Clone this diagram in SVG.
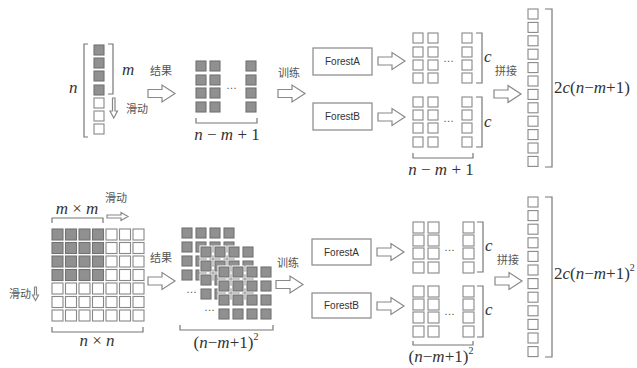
<svg xmlns="http://www.w3.org/2000/svg" xmlns:xlink="http://www.w3.org/1999/xlink" width="637" height="368" viewBox="0 0 637 368">
<style>
.br{fill:none;stroke:#777;stroke-width:1.2}
.ar{fill:#fff;stroke:#888;stroke-width:1.2}
.math{font-family:"Liberation Serif","Times New Roman",serif;fill:#333;font-size:17px}
.it{font-style:italic}
.cn{font-family:"Noto Sans CJK SC",sans-serif;fill:#555;font-size:11px}
.box{fill:#fff;stroke:#888;stroke-width:1.2}
.fl{font-family:"Liberation Sans",Arial,sans-serif;font-size:10px;fill:#333;text-anchor:middle}
.dots{font-family:"Liberation Sans",Arial,sans-serif;font-size:11px;fill:#555}
</style>
<defs>
<rect id="ws" width="10" height="10" fill="#fff" stroke="#888" stroke-width="1.1"/>
<rect id="wl" width="11" height="11" fill="#fff" stroke="#888" stroke-width="1.1"/>
<rect id="gs" width="10" height="10" fill="#909090" stroke="#727272" stroke-width="1.1"/>
<rect id="gl" width="11" height="11" fill="#909090" stroke="#727272" stroke-width="1.1"/>
<g id="gh"><rect x="-1.5" y="-1.5" width="13" height="13" fill="#fff"/><rect width="10" height="10" fill="#909090" stroke="#727272" stroke-width="1.1"/></g>
<path id="bigarrow" d="M0,-4 H14 V-8.5 L27,0 L14,8.5 V4 H0 Z" class="ar"/>
</defs>

<!-- ===== TOP ROW ===== -->
<g id="top-input">
<path class="br" d="M88,44 H84 V137 H88"/>
<path class="br" d="M108,44 H113 V94 H108"/>
<use href="#gs" x="94" y="45"/><use href="#gs" x="94" y="58"/><use href="#gs" x="94" y="71"/><use href="#gs" x="94" y="85"/>
<use href="#ws" x="94" y="98"/><use href="#ws" x="94" y="111"/><use href="#ws" x="94" y="124"/>
<text class="math it" x="69" y="93">n</text>
<text class="math it" x="122" y="75">m</text>
<path class="ar" d="M112.5,98 H115 V111 H117.5 L113.75,118 L110,111 H112.5 Z"/>
<text class="cn" x="126" y="113">滑动</text>
</g>

<g id="top-result">
<use href="#gs" x="196" y="61"/><use href="#gs" x="210" y="61"/><use href="#gs" x="246" y="61"/>
<use href="#gs" x="196" y="75"/><use href="#gs" x="210" y="75"/><use href="#gs" x="246" y="75"/>
<use href="#gs" x="196" y="88"/><use href="#gs" x="210" y="88"/><use href="#gs" x="246" y="88"/>
<use href="#gs" x="196" y="102"/><use href="#gs" x="210" y="102"/><use href="#gs" x="246" y="102"/>
<text class="dots" x="226" y="89">…</text>
<path class="br" d="M196,118 V123 H257 V118"/>
<text class="math" x="227" y="140" text-anchor="middle"><tspan class="it">n</tspan> − <tspan class="it">m</tspan> + 1</text>
</g>

<g id="top-forestA"><rect class="box" x="313" y="48" width="59" height="27"/><text class="fl" x="342.5" y="65">ForestA</text></g>
<g id="top-forestB"><rect class="box" x="313" y="103" width="59" height="27"/><text class="fl" x="342.5" y="120">ForestB</text></g>

<g id="top-outA">
<use href="#ws" x="413" y="33"/><use href="#ws" x="428" y="33"/><use href="#ws" x="462" y="33"/>
<use href="#ws" x="413" y="47"/><use href="#ws" x="428" y="47"/><use href="#ws" x="462" y="47"/>
<use href="#ws" x="413" y="60"/><use href="#ws" x="428" y="60"/><use href="#ws" x="462" y="60"/>
<use href="#ws" x="413" y="73"/><use href="#ws" x="428" y="73"/><use href="#ws" x="462" y="73"/>
<text class="dots" x="443" y="62">…</text>
<path class="br" d="M476,33 H482 V83 H476"/>
<text class="math it" x="484" y="62">c</text>
</g>
<g id="top-outB">
<use href="#ws" x="413" y="97"/><use href="#ws" x="428" y="97"/><use href="#ws" x="462" y="97"/>
<use href="#ws" x="413" y="110"/><use href="#ws" x="428" y="110"/><use href="#ws" x="462" y="110"/>
<use href="#ws" x="413" y="123"/><use href="#ws" x="428" y="123"/><use href="#ws" x="462" y="123"/>
<use href="#ws" x="413" y="137"/><use href="#ws" x="428" y="137"/><use href="#ws" x="462" y="137"/>
<text class="dots" x="443" y="122">…</text>
<path class="br" d="M476,97 H482 V147 H476"/>
<text class="math it" x="484" y="127">c</text>
<path class="br" d="M413,153 V158 H473 V153"/>
<text class="math" x="441" y="175" text-anchor="middle"><tspan class="it">n</tspan> − <tspan class="it">m</tspan> + 1</text>
</g>

<g id="top-concat">
<use href="#ws" x="528" y="9"/><use href="#ws" x="528" y="22.4"/><use href="#ws" x="528" y="35.8"/><use href="#ws" x="528" y="49.2"/>
<use href="#ws" x="528" y="62.6"/><use href="#ws" x="528" y="76"/><use href="#ws" x="528" y="89.4"/><use href="#ws" x="528" y="102.8"/>
<use href="#ws" x="528" y="116.2"/><use href="#ws" x="528" y="129.6"/><use href="#ws" x="528" y="143"/><use href="#ws" x="528" y="156.4"/>
<path class="br" d="M545,9 H552 V167 H545"/>
<text class="math" x="554" y="93">2<tspan class="it">c</tspan>(<tspan class="it">n</tspan>−<tspan class="it">m</tspan>+1)</text>
</g>

<!-- ===== BOTTOM ROW ===== -->
<g id="bottom-input">
<text class="cn" x="105" y="202">滑动</text>
<path class="ar" d="M107,215 H121 V212.5 L128,216.5 L121,220.5 V218 H107 Z"/>
<text class="math" x="77" y="214" text-anchor="middle"><tspan class="it">m</tspan> × <tspan class="it">m</tspan></text>
<path class="br" d="M52,223 V218 H103 V223"/>
<use href="#gl" x="52" y="229"/><use href="#gl" x="65.5" y="229"/><use href="#gl" x="79" y="229"/><use href="#gl" x="92.5" y="229"/><use href="#wl" x="106" y="229"/><use href="#wl" x="119.5" y="229"/><use href="#wl" x="133" y="229"/>
<use href="#gl" x="52" y="242.5"/><use href="#gl" x="65.5" y="242.5"/><use href="#gl" x="79" y="242.5"/><use href="#gl" x="92.5" y="242.5"/><use href="#wl" x="106" y="242.5"/><use href="#wl" x="119.5" y="242.5"/><use href="#wl" x="133" y="242.5"/>
<use href="#gl" x="52" y="256"/><use href="#gl" x="65.5" y="256"/><use href="#gl" x="79" y="256"/><use href="#gl" x="92.5" y="256"/><use href="#wl" x="106" y="256"/><use href="#wl" x="119.5" y="256"/><use href="#wl" x="133" y="256"/>
<use href="#gl" x="52" y="269.5"/><use href="#gl" x="65.5" y="269.5"/><use href="#gl" x="79" y="269.5"/><use href="#gl" x="92.5" y="269.5"/><use href="#wl" x="106" y="269.5"/><use href="#wl" x="119.5" y="269.5"/><use href="#wl" x="133" y="269.5"/>
<use href="#wl" x="52" y="283"/><use href="#wl" x="65.5" y="283"/><use href="#wl" x="79" y="283"/><use href="#wl" x="92.5" y="283"/><use href="#wl" x="106" y="283"/><use href="#wl" x="119.5" y="283"/><use href="#wl" x="133" y="283"/>
<use href="#wl" x="52" y="296.5"/><use href="#wl" x="65.5" y="296.5"/><use href="#wl" x="79" y="296.5"/><use href="#wl" x="92.5" y="296.5"/><use href="#wl" x="106" y="296.5"/><use href="#wl" x="119.5" y="296.5"/><use href="#wl" x="133" y="296.5"/>
<use href="#wl" x="52" y="310"/><use href="#wl" x="65.5" y="310"/><use href="#wl" x="79" y="310"/><use href="#wl" x="92.5" y="310"/><use href="#wl" x="106" y="310"/><use href="#wl" x="119.5" y="310"/><use href="#wl" x="133" y="310"/>
<text class="cn" x="9" y="298">滑动</text>
<path class="ar" d="M34.5,287 H36.5 V295 H38.5 L35.5,300.5 L32.5,295 H34.5 Z"/>
<path class="br" d="M52,327 V332 H143 V327"/>
<text class="math" x="97" y="346" text-anchor="middle"><tspan class="it">n</tspan> × <tspan class="it">n</tspan></text>
</g>

<g id="bottom-result">
<use href="#gh" x="182" y="228"/><use href="#gh" x="196" y="228"/><use href="#gh" x="210" y="228"/><use href="#gh" x="224" y="228"/>
<use href="#gh" x="182" y="242"/><use href="#gh" x="196" y="242"/><use href="#gh" x="210" y="242"/><use href="#gh" x="224" y="242"/>
<use href="#gh" x="182" y="256"/><use href="#gh" x="196" y="256"/><use href="#gh" x="210" y="256"/><use href="#gh" x="224" y="256"/>
<use href="#gh" x="182" y="270"/><use href="#gh" x="196" y="270"/><use href="#gh" x="210" y="270"/><use href="#gh" x="224" y="270"/>
<use href="#gh" x="201" y="247"/><use href="#gh" x="215" y="247"/><use href="#gh" x="229" y="247"/><use href="#gh" x="243" y="247"/>
<use href="#gh" x="201" y="261"/><use href="#gh" x="215" y="261"/><use href="#gh" x="229" y="261"/><use href="#gh" x="243" y="261"/>
<use href="#gh" x="201" y="275"/><use href="#gh" x="215" y="275"/><use href="#gh" x="229" y="275"/><use href="#gh" x="243" y="275"/>
<use href="#gh" x="201" y="289"/><use href="#gh" x="215" y="289"/><use href="#gh" x="229" y="289"/><use href="#gh" x="243" y="289"/>
<use href="#gh" x="219" y="267"/><use href="#gh" x="233" y="267"/><use href="#gh" x="247" y="267"/><use href="#gh" x="261" y="267"/>
<use href="#gh" x="219" y="281"/><use href="#gh" x="233" y="281"/><use href="#gh" x="247" y="281"/><use href="#gh" x="261" y="281"/>
<use href="#gh" x="219" y="295"/><use href="#gh" x="233" y="295"/><use href="#gh" x="247" y="295"/><use href="#gh" x="261" y="295"/>
<use href="#gh" x="219" y="309"/><use href="#gh" x="233" y="309"/><use href="#gh" x="247" y="309"/><use href="#gh" x="261" y="309"/>
<text class="dots" x="186" y="293">…</text>
<text class="dots" x="204" y="311">…</text>
<path class="br" d="M180,325 V330 H273 V325"/>
<text class="math" x="226" y="348" text-anchor="middle">(<tspan class="it">n</tspan>−<tspan class="it">m</tspan>+1)<tspan font-size="10" dy="-8">2</tspan></text>
</g>

<g id="bottom-forestA"><rect class="box" x="312" y="239" width="59" height="26"/><text class="fl" x="341.5" y="255.5">ForestA</text></g>
<g id="bottom-forestB"><rect class="box" x="312" y="293" width="59" height="25"/><text class="fl" x="341.5" y="309">ForestB</text></g>

<g id="bottom-outA">
<use href="#wl" x="413" y="222"/><use href="#wl" x="428" y="222"/><use href="#wl" x="463" y="222"/>
<use href="#wl" x="413" y="235"/><use href="#wl" x="428" y="235"/><use href="#wl" x="463" y="235"/>
<use href="#wl" x="413" y="248"/><use href="#wl" x="428" y="248"/><use href="#wl" x="463" y="248"/>
<use href="#wl" x="413" y="262"/><use href="#wl" x="428" y="262"/><use href="#wl" x="463" y="262"/>
<text class="dots" x="444" y="251">…</text>
<path class="br" d="M477,222 H483 V272 H477"/>
<text class="math it" x="485" y="251">c</text>
</g>
<g id="bottom-outB">
<use href="#wl" x="413" y="286"/><use href="#wl" x="428" y="286"/><use href="#wl" x="463" y="286"/>
<use href="#wl" x="413" y="299"/><use href="#wl" x="428" y="299"/><use href="#wl" x="463" y="299"/>
<use href="#wl" x="413" y="312"/><use href="#wl" x="428" y="312"/><use href="#wl" x="463" y="312"/>
<use href="#wl" x="413" y="326"/><use href="#wl" x="428" y="326"/><use href="#wl" x="463" y="326"/>
<text class="dots" x="444" y="315">…</text>
<path class="br" d="M477,286 H483 V337 H477"/>
<text class="math it" x="485" y="315">c</text>
<path class="br" d="M413,341 V345 H473 V341"/>
<text class="math" x="441" y="362" text-anchor="middle" font-size="16">(<tspan class="it">n</tspan>−<tspan class="it">m</tspan>+1)<tspan font-size="10" dy="-8">2</tspan></text>
</g>

<g id="bottom-concat">
<use href="#ws" x="528" y="197"/><use href="#ws" x="528" y="210.6"/><use href="#ws" x="528" y="224.2"/><use href="#ws" x="528" y="237.8"/>
<use href="#ws" x="528" y="251.4"/><use href="#ws" x="528" y="265"/><use href="#ws" x="528" y="278.6"/><use href="#ws" x="528" y="292.2"/>
<use href="#ws" x="528" y="305.8"/><use href="#ws" x="528" y="319.4"/><use href="#ws" x="528" y="333"/><use href="#ws" x="528" y="346.6"/>
<path class="br" d="M545,197 H552 V357 H545"/>
<text class="math" x="554" y="279">2<tspan class="it">c</tspan>(<tspan class="it">n</tspan>−<tspan class="it">m</tspan>+1)<tspan font-size="10" dy="-8">2</tspan></text>
</g>

<!-- ===== CONNECTORS ===== -->
<g id="connectors">
<use href="#bigarrow" transform="translate(148,93.5)"/>
<text class="cn" x="150" y="75">结果</text>
<use href="#bigarrow" transform="translate(278,93.5)"/>
<text class="cn" x="278" y="77">训练</text>
<use href="#bigarrow" transform="translate(378,61)"/>
<use href="#bigarrow" transform="translate(378,117)"/>
<use href="#bigarrow" transform="translate(494,94)"/>
<text class="cn" x="495" y="75">拼接</text>

<use href="#bigarrow" transform="translate(148,281)"/>
<text class="cn" x="150" y="262">结果</text>
<use href="#bigarrow" transform="translate(276,284.5)"/>
<text class="cn" x="277" y="267">训练</text>
<use href="#bigarrow" transform="translate(377,252)"/>
<use href="#bigarrow" transform="translate(377,306)"/>
<use href="#bigarrow" transform="translate(495,281)"/>
<text class="cn" x="497" y="264">拼接</text>
</g>
</svg>
